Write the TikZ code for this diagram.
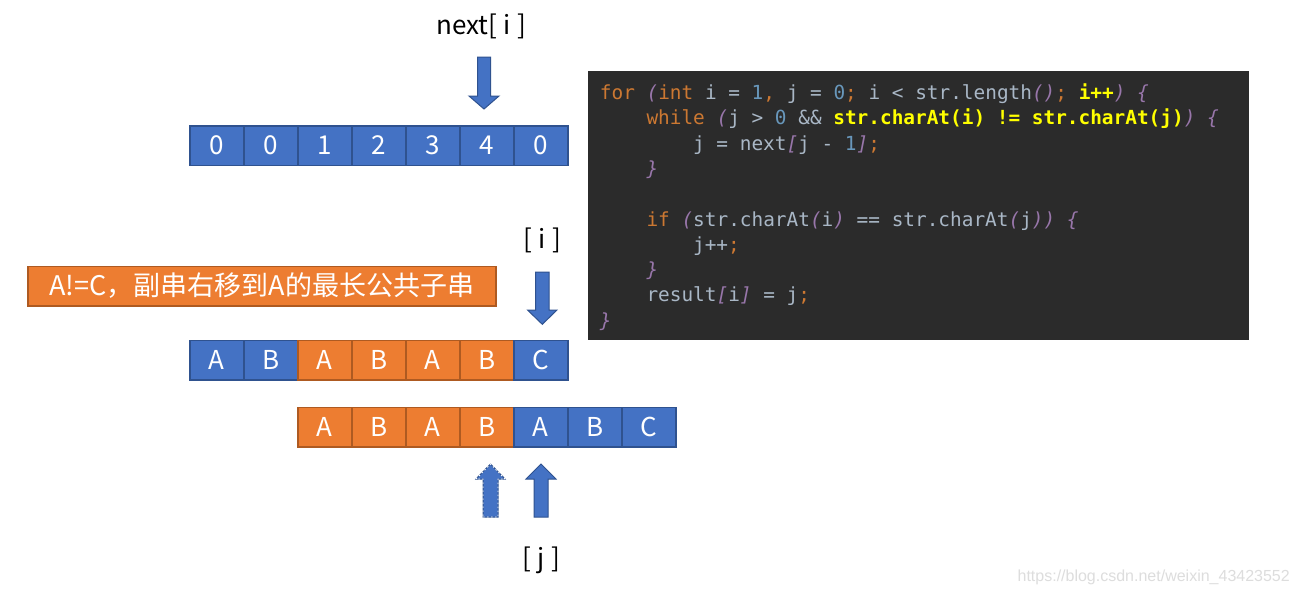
\documentclass[tikz,border=0pt]{standalone}
\usepackage{fontspec}
\setmainfont{Noto Sans CJK SC}
\newfontfamily\codefont[WordSpace={1,0,0}]{DejaVu Sans Mono}
\newfontfamily\wmfont{Liberation Sans}
\definecolor{blueF}{HTML}{4472C4}
\definecolor{blueD}{HTML}{2F528F}
\definecolor{orangeF}{HTML}{ED7D31}
\definecolor{orangeD}{HTML}{AE5A21}
\definecolor{codebg}{HTML}{2B2B2B}
\definecolor{ckwc}{HTML}{CC7832}
\definecolor{cnumc}{HTML}{6897BB}
\definecolor{ctxc}{HTML}{A9B7C6}
\definecolor{cyelc}{HTML}{FFFF00}
\definecolor{cpurc}{HTML}{9876AA}
\definecolor{wmc}{HTML}{DDDDDD}
\newcommand\ckw[1]{\textcolor{ckwc}{#1}}
\newcommand\cnum[1]{\textcolor{cnumc}{#1}}
\newcommand\ctx[1]{\textcolor{ctxc}{#1}}
\newcommand\cyel[1]{\textcolor{cyelc}{\bfseries #1}}
\newcommand\cpur[1]{\textcolor{cpurc}{\itshape #1}}
\frenchspacing
\tikzset{
  cellbase/.style={draw, line width=1.5pt, minimum width=54pt, minimum height=39.5pt,
    inner sep=0pt, anchor=north west, text=white, font=\fontsize{26}{30}\selectfont},
  cellB/.style={cellbase, fill=blueF, draw=blueD},
  cellO/.style={cellbase, fill=orangeF, draw=orangeD},
  codeline/.style={anchor=base west, inner sep=0pt, font=\codefont\fontsize{19.4}{23}\selectfont},
  lbl/.style={inner sep=0pt, text=black, font=\fontsize{26}{30}\selectfont},
  blockarrow/.style={fill=blueF, draw=blueD, line width=1pt, line join=miter},
}
\begin{document}
\begin{tikzpicture}[x=1pt, y=-1pt]
\useasboundingbox (0,0) rectangle (1298,595);
\fill[white] (0,0) rectangle (1298,595);

% top array (next)
\foreach \v [count=\k from 0] in {0,0,1,2,3,4,0}
  \node[cellB] (a\k) at ({189+54*\k},125) {\v};
\node[lbl] (nexti) at (481.5,26) {next[\hspace{6.5pt}i\hspace{6.5pt}]};
\draw[blockarrow] (477.5,57) -- (490.5,57) -- (490.5,96) -- (499,96) -- (484,109) -- (469,96) -- (477.5,96) -- cycle;

% code box
\node[fill=codebg, minimum width=661pt, minimum height=269pt, anchor=north west, inner sep=0pt] (code) at (588,71) {};
\node[codeline] (l1) at (599.7,99.5) {\ckw{for} \cpur{(}\ckw{int} \ctx{i =} \cnum{1}\ckw{,} \ctx{j =} \cnum{0}\ckw{;} \ctx{i < str.length}\cpur{()}\ckw{;} \cyel{i++}\cpur{) \{}};
\node[codeline] (l2) at (646.3,124.8) {\ckw{while} \cpur{(}\ctx{j >} \cnum{0} \ctx{\&\&} \cyel{str.charAt(i) != str.charAt(j)}\cpur{) \{}};
\node[codeline] (l3) at (692.9,150.1) {\ctx{j = next}\cpur{[}\ctx{j -} \cnum{1}\cpur{]}\ckw{;}};
\node[codeline] (l4) at (646.3,175.4) {\cpur{\}}};
\node[codeline] (l6) at (646.3,226) {\ckw{if} \cpur{(}\ctx{str.charAt}\cpur{(}\ctx{i}\cpur{)} \ctx{== str.charAt}\cpur{(}\ctx{j}\cpur{)) \{}};
\node[codeline] (l7) at (692.9,251.3) {\ctx{j++}\ckw{;}};
\node[codeline] (l8) at (646.3,276.6) {\cpur{\}}};
\node[codeline] (l9) at (646.3,301.9) {\ctx{result}\cpur{[}\ctx{i}\cpur{]} \ctx{= j}\ckw{;}};
\node[codeline] (l10) at (599.7,327.2) {\cpur{\}}};

% note box
\node[fill=orangeF, draw=orangeD, line width=1.5pt, minimum width=467.7pt, minimum height=39.5pt,
  inner sep=0pt, anchor=north west, text=white, font=\fontsize{27}{30}\selectfont] (note) at (27.3,265.5) {A!=C，副串右移到A的最长公共子串};

% [ i ] label and arrow
\node[lbl] (ilbl) at (542,240) {[\hspace{6.5pt}i\hspace{6.5pt}]};
\draw[blockarrow] (535.7,272) -- (549,272) -- (549,310) -- (557,310) -- (542.3,324.3) -- (527.5,310) -- (535.7,310) -- cycle;

% main string
\foreach \c/\s [count=\k from 0] in {A/cellB,B/cellB,A/cellO,B/cellO,A/cellO,B/cellO,C/cellB}
  \node[\s] (b\k) at ({189+54*\k},339.5) {\c};

% shifted pattern
\foreach \c/\s [count=\k from 0] in {A/cellO,B/cellO,A/cellO,B/cellO,A/cellB,B/cellB,C/cellB}
  \node[\s] (c\k) at ({297+54*\k},406.5) {\c};

% up arrows
\draw[blockarrow] (483,517) -- (498,517) -- (498,479) -- (505,479) -- (490.5,464) -- (476,479) -- (483,479) -- cycle;
\draw[white, line width=0.9pt, dash pattern=on 1.5pt off 2.5pt] (483,517) -- (498,517) -- (498,479) -- (505,479) -- (490.5,464) -- (476,479) -- (483,479) -- cycle;
\draw[blockarrow] (534,517) -- (548,517) -- (548,479) -- (556,479) -- (541,464) -- (526,479) -- (534,479) -- cycle;
\node[lbl] (jlbl) at (541,560) {[\hspace{6.5pt}j\hspace{6.5pt}]};

% watermark
\node[anchor=east, inner sep=0pt, text=wmc, font=\wmfont\fontsize{16}{18}\selectfont] (wm) at (1290,577) {https://blog.csdn.net/weixin\_43423552};
\end{tikzpicture}
\end{document}
